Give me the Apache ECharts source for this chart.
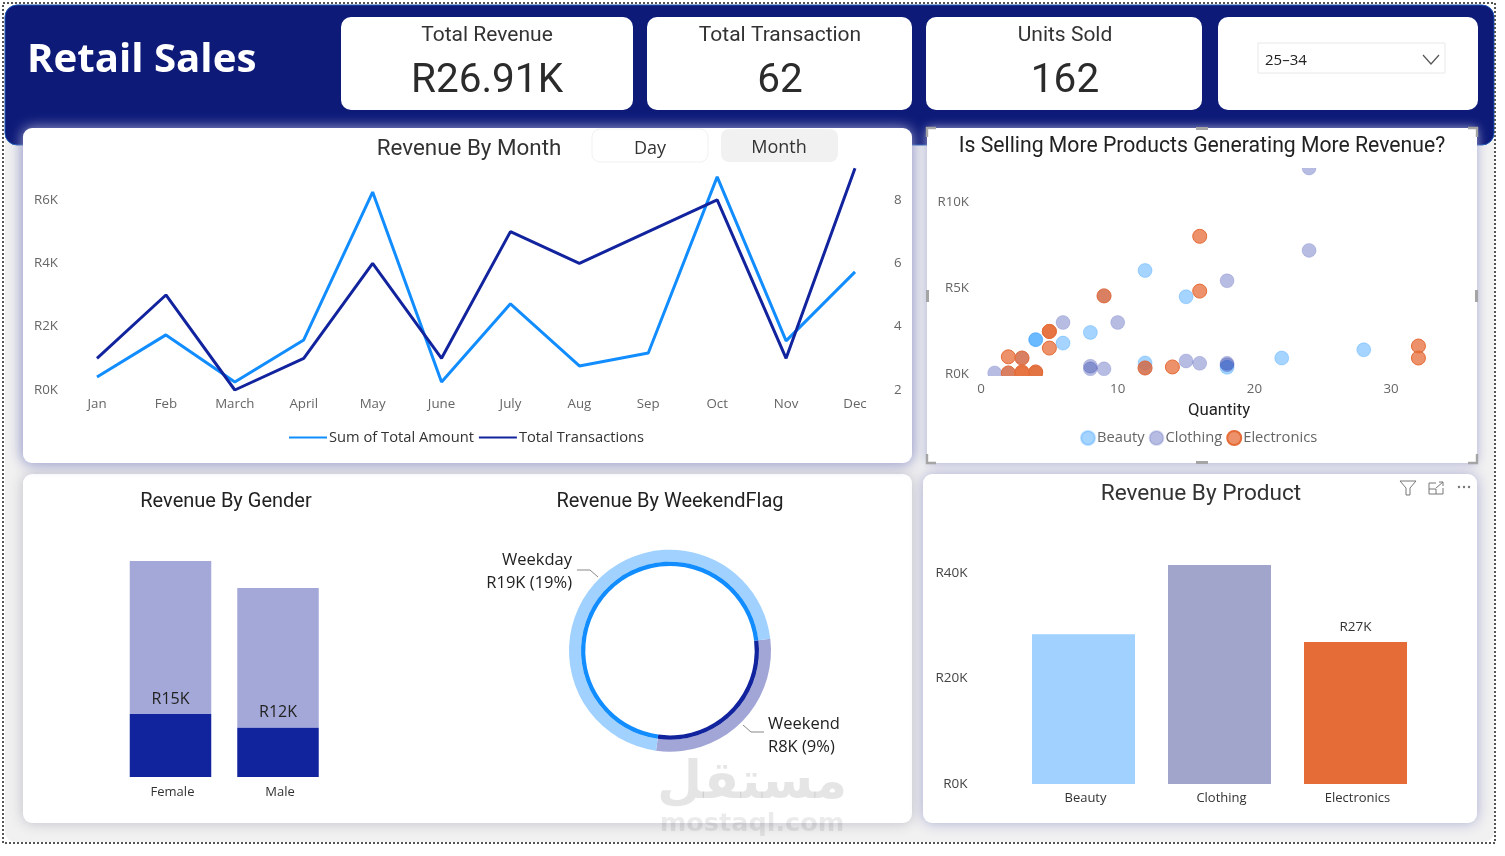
<!DOCTYPE html>
<html><head><meta charset="utf-8">
<style>html,body{margin:0;padding:0;background:#fff}#c{width:1505px;height:856px}</style>
<script src="https://cdn.jsdelivr.net/npm/echarts@6/dist/echarts.min.js"></script>
</head><body><div id="c"></div>
<script>
const months=['Jan','Feb','March','April','May','June','July','Aug','Sep','Oct','Nov','Dec'];
const monthRevenueK=[0.41,1.74,0.25,1.58,6.25,0.25,2.72,0.76,1.17,6.73,1.55,3.73];
const monthTransactions=[3,5,2,3,6,3,7,6,7,8,3,9];
const beautyPts=[[12,6.03],[15,4.5],[4,2.0],[4,2.0],[6,1.8],[8,2.42],[22,0.93],[28,1.41],[12,0.64],[18,0.39],[4,0.1]];
const clothingPts=[[24,12.0],[24,7.2],[18,5.43],[6,3.0],[10,3.0],[1,0.06],[8,0.45],[8,0.3],[9,0.3],[15,0.76],[16,0.62],[18,0.62],[18,0.54],[3,0.93],[2,0.06],[9,4.55],[12,0.35]];
const electronicsPts=[[16,8.02],[16,4.83],[9,4.55],[5,2.48],[5,2.48],[5,1.51],[2,1.0],[3,0.93],[2,0.06],[3,0.12],[3,0.06],[4,0.12],[4,0.06],[12,0.35],[14,0.41],[32,1.63],[32,0.93]];
const genders=['Female','Male'];
const genderSelectedK=[15,11.7];
const genderOtherK=[36.4,33.3];
const flagNames=['Weekend','Weekday'];
const flagValuesK=[7.83,19.08];
const flagLabels=['Weekend\nR8K (9%)','Weekday\nR19K (19%)'];
const products=['Beauty','Clothing','Electronics'];
const productValuesK=[28.4,41.5,26.9];
const kpis=[['Total Revenue','R26.91K',487],['Total Transaction','62',780],['Units Sold','162',1065]];

const DIN='Roboto', UI='"Open Sans"';
const lightBlue='#A0D1FF', lav='#A1A6D6', blue='#118DFF', navy='#12239E', orange='#E66C37';
const rect=(x,y,w,h,r,style,z)=>({type:'rect',shape:{x,y,width:w,height:h,r},style,z:z||1,silent:true});
const text=(x,y,t,font,fill,align,z)=>({type:'text',x,y,style:{text:t,font,fill,align:align||'center',verticalAlign:'middle'},z:z||5,silent:true});
const poly=(pts,stroke,lw,z)=>({type:'polyline',shape:{points:pts},style:{stroke,lineWidth:lw||1,fill:null},z:z||9,silent:true});
const panel=(x,y,w,h,shadow,z)=>rect(x,y,w,h,9,{fill:'#fff',shadowBlur:14,shadowColor:shadow},z||3);

const g=[];
g.push(rect(5,5,1489,837,10,{fill:'#F1F1F1'},0));
g.push({type:'rect',shape:{x:3,y:3,width:1492,height:840},style:{fill:null,stroke:'#555',lineWidth:2,lineDash:[2,2]},z:9,silent:true});
g.push(panel(23,474,889,349,'#BDBDC8',1));
g.push(panel(23,128,889,335,'#A9ABD2',2));
g.push(panel(923,474,554,349,'#A9ABD2',2));
g.push(rect(5,5,1489,140,12,{fill:'#0D1A78',stroke:'#1B55B5',lineWidth:1},2));
g.push(panel(23,128,889,335,'#A9ABD2',3));
g.push(rect(927,128,550,335,0,{fill:'#fff',shadowBlur:10,shadowColor:'#A9ABD2'},3));
[[341,292],[647,265],[926,276],[1218,260]].forEach(c=>g.push(rect(c[0],17,c[1],93,10,{fill:'#fff'},3)));
g.push(text(27,61,'Retail Sales','bold 40.2px "Open Sans"','#fff','left'));
kpis.forEach(k=>{g.push(text(k[2],36,k[0],'400 21px '+DIN,'#333'));g.push(text(k[2],82,k[1],'400 40.5px '+DIN,'#2b2b2b'));});
g.push(rect(1258,43,187,30,0,{fill:'#fff',stroke:'#E8E8E8',lineWidth:1},4));
g.push(text(1265,61,'25–34','400 15px '+UI,'#222','left'));
g.push(poly([[1423,55],[1431,64],[1439,55]],'#555',1.2));
g.push(text(469,149,'Revenue By Month','400 22.4px '+DIN,'#333'));
g.push(rect(592,129,116,33,8,{fill:'#fff',stroke:'#F1F1F1',lineWidth:1},4));
g.push(rect(721,129,117,33,8,{fill:'#F1F1F1'},4));
g.push(text(650,149,'Day','400 18px '+UI,'#333'));
g.push(text(779,148,'Month','400 18px '+UI,'#333'));
g.push(text(1202,147,'Is Selling More Products Generating More Revenue?','400 21.2px '+DIN,'#222'));
g.push(text(226,502,'Revenue By Gender','400 20px '+DIN,'#222'));
g.push(text(670,502,'Revenue By WeekendFlag','400 20px '+DIN,'#222'));
g.push(text(1201,494,'Revenue By Product','400 22.6px '+DIN,'#333'));
// masks that cut the scatter points at the plot edge
g.push(rect(930,376,540,9,0,{fill:'#fff'},7));
g.push(rect(930,158,540,10,0,{fill:'#fff'},7));
// focus handles on the scatter visual
[[[927,137],[927,128],[936,128]],[[1468,128],[1477,128],[1477,137]],[[927,454],[927,463],[936,463]],[[1468,463],[1477,463],[1477,454]]].forEach(p=>g.push(poly(p,'#A5A5A5',2.4)));
g.push(rect(1196,127,12,3,0,{fill:'#A5A5A5'},9),rect(1196,461,12,3,0,{fill:'#A5A5A5'},9),rect(926,290,3,12,0,{fill:'#A5A5A5'},9),rect(1475,290,3,12,0,{fill:'#A5A5A5'},9));
// product visual header icons
g.push(poly([[1400,481],[1416,481],[1410,488],[1410,495],[1406,495],[1406,488],[1400,481]],'#777',1));
g.push(poly([[1436,483],[1429,483],[1429,494],[1443,494],[1443,488]],'#777',1));
g.push(poly([[1436,488],[1443,482]],'#777',1),poly([[1439,482],[1443,482],[1443,486]],'#777',1),poly([[1429,489],[1436,489],[1436,494]],'#777',1));
[1459,1464,1469].forEach(x=>g.push({type:'circle',shape:{cx:x,cy:487,r:1.2},style:{fill:'#777'},z:9,silent:true}));
// watermark
g.push(text(752,784,'مستقل','bold 52px "DejaVu Sans"','rgba(0,0,0,0.10)','center',12));
g.push(text(752,824,'mostaql.com','bold 25.5px "DejaVu Sans"','rgba(0,0,0,0.08)','center',12));

const axLabel={color:'#666',fontFamily:UI,fontSize:13.3};
const yNudge={padding:[2,0,0,0]};
const hide={axisLine:{show:false},axisTick:{show:false},splitLine:{show:false},z:10};
const K=v=>'R'+v+'K';
const option={
 animation:false,
 graphic:{elements:g},
 grid:[
  {left:97,top:168.3,width:758,height:221.7},
  {left:981,top:168,width:476,height:207.7},
  {left:116.75,top:540,width:215,height:237},
  {left:1015.5,top:540,width:408,height:244}
 ],
 legend:[
  {data:['Sum of Total Amount','Total Transactions'],left:284,top:425,icon:'rect',itemWidth:38,itemHeight:2,itemGap:5,textStyle:{color:'#333',fontFamily:UI,fontSize:14.7,padding:[0,0,0,-3]},z:10},
  {data:['Beauty','Clothing','Electronics'],left:1075,top:425,icon:'circle',itemWidth:14,itemHeight:14,itemGap:4,textStyle:{color:'#666',fontFamily:UI,fontSize:14.7,padding:[0,0,0,-3]},z:10}
 ],
 xAxis:[
  {gridIndex:0,type:'category',boundaryGap:false,data:months,...hide,axisLabel:{...axLabel,margin:8,interval:0}},
  {gridIndex:1,type:'value',min:0,max:34.82,...hide,axisLabel:{...axLabel,margin:7,customValues:[0,10,20,30]},name:'Quantity',nameLocation:'middle',nameGap:27,nameTextStyle:{fontFamily:DIN,fontSize:16.8,fontWeight:400,color:'#222'}},
  {gridIndex:2,type:'category',data:genders,...hide,axisLabel:{color:'#333',fontFamily:UI,fontSize:13,margin:9,padding:[0,0,0,4]}},
  {gridIndex:3,type:'category',data:products,...hide,axisLabel:{color:'#333',fontFamily:UI,fontSize:13,margin:8,padding:[0,0,0,4]}}
 ],
 yAxis:[
  {gridIndex:0,type:'value',min:0,max:7,...hide,axisLabel:{...axLabel,...yNudge,margin:39,customValues:[0,2,4,6],formatter:K}},
  {gridIndex:0,type:'value',position:'right',min:2,max:9,...hide,axisLabel:{...axLabel,...yNudge,margin:39,customValues:[2,4,6,8]}},
  {gridIndex:1,type:'value',min:-0.1,max:12,...hide,axisLabel:{...axLabel,...yNudge,margin:12,customValues:[0,5,10],formatter:K}},
  {gridIndex:2,type:'value',min:0,max:56.4,show:false,...hide},
  {gridIndex:3,type:'value',min:0,max:46.25,...hide,axisLabel:{color:'#444',fontFamily:UI,fontSize:13.5,...yNudge,margin:48,customValues:[0,20,40],formatter:K}}
 ],
 series:[
  {name:'Sum of Total Amount',type:'line',xAxisIndex:0,yAxisIndex:0,data:monthRevenueK,showSymbol:false,lineStyle:{color:blue,width:3},itemStyle:{color:blue},z:4},
  {name:'Total Transactions',type:'line',xAxisIndex:0,yAxisIndex:1,data:monthTransactions,showSymbol:false,lineStyle:{color:navy,width:3},itemStyle:{color:navy},z:5},
  {name:'Beauty',type:'scatter',xAxisIndex:1,yAxisIndex:2,data:beautyPts,symbolSize:14,itemStyle:{color:'rgba(17,141,255,0.38)',borderColor:'rgba(17,141,255,0.25)',borderWidth:1,opacity:1},z:4},
  {name:'Clothing',type:'scatter',xAxisIndex:1,yAxisIndex:2,data:clothingPts,symbolSize:14,itemStyle:{color:'rgba(18,35,158,0.3)',borderColor:'rgba(18,35,158,0.15)',borderWidth:1,opacity:1},z:5},
  {name:'Electronics',type:'scatter',xAxisIndex:1,yAxisIndex:2,data:electronicsPts,symbolSize:14,itemStyle:{color:'rgba(230,108,55,0.75)',borderColor:'#E66C37',borderWidth:1,opacity:1},z:6},
  {type:'bar',xAxisIndex:2,yAxisIndex:3,stack:'g',barWidth:81.5,data:genderSelectedK,itemStyle:{color:navy},label:{show:true,position:'top',distance:7,color:'#222',fontFamily:UI,fontSize:16,formatter:p=>K(Math.round(p.value))},z:5},
  {type:'bar',xAxisIndex:2,yAxisIndex:3,stack:'g',barWidth:81.5,data:genderOtherK,itemStyle:{color:'#A3A8D8'},z:4},
  {type:'bar',xAxisIndex:3,yAxisIndex:4,barWidth:103,data:productValuesK,itemStyle:{color:p=>[lightBlue,'#A1A4CB',orange][p.dataIndex]},label:{show:true,position:'top',distance:8,color:'#333',fontFamily:UI,fontSize:13.5,formatter:p=>p.dataIndex===2?K(Math.round(p.value)):''},z:4},
  {type:'pie',center:[670,650.7],radius:[89,101],startAngle:6.8,data:flagNames.map((n,i)=>({name:n,value:flagValuesK[i],itemStyle:{color:[lav,lightBlue][i]}})),silent:true,z:4,
   label:{show:true,color:'#222',fontFamily:UI,fontSize:16.5,lineHeight:23,formatter:p=>flagLabels[p.dataIndex]},
   labelLine:{show:true,smooth:false,lineStyle:{color:'#888',width:1}},
   labelLayout:p=>p.dataIndex===0
     ?{x:768,y:736,align:'left',verticalAlign:'middle',labelLinePoints:[[743,725],[751,732],[764,732]]}
     :{x:572,y:572,align:'right',verticalAlign:'middle',labelLinePoints:[[598,577],[590,570],[577,570]]}},
  {type:'pie',center:[670,650.7],radius:[84.7,89],startAngle:6.8,data:flagNames.map((n,i)=>({name:n,value:flagValuesK[i],itemStyle:{color:[navy,blue][i]}})),silent:true,label:{show:false},labelLine:{show:false},z:5}
 ]
};
const chart=echarts.init(document.getElementById('c'),null,{width:1505,height:856});
chart.setOption(option);
</script></body></html>
